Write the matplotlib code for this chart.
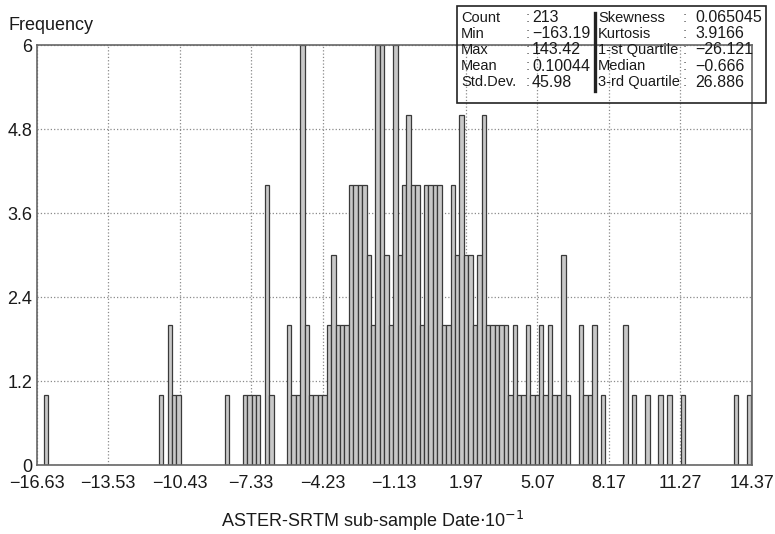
import numpy as np
import matplotlib.pyplot as plt
from matplotlib.patches import Rectangle
from matplotlib.lines import Line2D

plt.rcParams['font.family'] = ['Liberation Sans', 'DejaVu Sans']

# limites do histograma (min/max dos dados) e numero de classes
x_lo = -16.319
x_hi = 14.342
n_bins = 160

# classes nao vazias: indice da classe e frequencia
bin_idx = [0, 26, 28, 29, 30, 41, 45, 46, 47, 48, 50, 51,
           55, 56, 57, 58, 59, 60, 61, 62, 63, 64, 65, 66, 67, 68,
           69, 70, 71, 72, 73, 74, 75, 76, 77, 78, 79, 80, 81, 82,
           83, 84, 85, 86, 87, 88, 89, 90, 91, 92, 93, 94, 95, 96,
           97, 98, 99, 100, 101, 102, 103, 104, 105, 106, 107, 108, 109,
           110, 111, 112, 113, 114, 115, 116, 117, 118,
           121, 122, 123, 124, 126, 131, 133, 136, 139, 141, 144, 156, 159]
freq = [1, 1, 2, 1, 1, 1, 1, 1, 1, 1, 4, 1,
        2, 1, 1, 6, 2, 1, 1, 1, 1, 2, 3, 2, 2, 2,
        4, 4, 4, 4, 3, 2, 6, 6, 3, 2, 6, 3, 4, 5,
        4, 4, 2, 4, 4, 4, 4, 2, 2, 4, 3, 5, 3, 3,
        2, 3, 5, 2, 2, 2, 2, 2, 1, 2, 1, 1, 2,
        1, 1, 2, 1, 2, 1, 1, 3, 1,
        2, 1, 1, 2, 1, 2, 1, 1, 1, 1, 1, 1, 1]

x_ticks = [-16.63, -13.53, -10.43, -7.33, -4.23, -1.13, 1.97, 5.07, 8.17, 11.27, 14.37]
y_ticks = [0, 1.2, 2.4, 3.6, 4.8, 6]

stat_names_1 = ['Count', 'Min', 'Max', 'Mean', 'Std.Dev.']
stat_vals_1 = ['213', '\u2212163.19', '143.42', '0.10044', '45.98']
stat_names_2 = ['Skewness', 'Kurtosis', '1-st Quartile', 'Median', '3-rd Quartile']
stat_vals_2 = ['0.065045', '3.9166', '\u221226.121', '\u22120.666', '26.886']

W, H = 775, 534
fig = plt.figure(figsize=(W / 100, H / 100), dpi=100)
ax = fig.add_axes([36.5 / W, 1 - 465 / H, (752 - 36.5) / W, 420 / H])

edges = np.linspace(x_lo, x_hi, n_bins + 1)
w = edges[1] - edges[0]
ax.bar(edges[bin_idx], freq, width=w, align='edge',
       color='#c8c8c8', edgecolor='#3a3a3a', linewidth=0.9)

ax.set_xlim(x_ticks[0], x_ticks[-1])
ax.set_ylim(0, 6)
ax.set_xticks(x_ticks)
ax.set_xticklabels([('%.2f' % v).replace('-', '\u2212') for v in x_ticks])
ax.set_yticks(y_ticks)
ax.set_yticklabels(['0', '1.2', '2.4', '3.6', '4.8', '6'])
ax.tick_params(length=0, labelsize=13, colors='#1a1a1a')
ax.tick_params(axis='x', pad=7)
ax.tick_params(axis='y', pad=3)
ax.set_axisbelow(True)
ax.grid(True, linestyle=':', color='#8a8a8a', linewidth=0.9)
for s in ax.spines.values():
    s.set_color('#666666')
    s.set_linewidth(1.2)

fig.text(8 / W, 1 - 25 / H, 'Frequency', fontsize=13, va='center', ha='left', color='#1a1a1a')
fig.text(373 / W, 1 - 521 / H, r'ASTER-SRTM sub-sample Date$\cdot$10$^{-1}$',
         fontsize=13, va='center', ha='center', color='#1a1a1a')

# caixa de estatisticas
def fx(x):
    return x / W

def fy(y):
    return 1 - y / H

fig.add_artist(Rectangle((fx(457), fy(103)), (766 - 457) / W, 97 / H,
                         transform=fig.transFigure, fill=False, ec='#222222', lw=1.2))
fig.add_artist(Line2D([fx(595), fx(595)], [fy(13), fy(91)], transform=fig.transFigure,
                      color='#222222', lw=2.4))
for i in range(5):
    y = fy(17.5 + 16.2 * i)
    fig.text(fx(461), y, stat_names_1[i], fontsize=10.5, va='center', color='#1a1a1a')
    fig.text(fx(526), y, ':', fontsize=10.5, va='center', color='#555555')
    fig.text(fx(532), y, stat_vals_1[i], fontsize=11.5, va='center', color='#1a1a1a')
    fig.text(fx(598), y, stat_names_2[i], fontsize=10.5, va='center', color='#1a1a1a')
    fig.text(fx(683), y, ':', fontsize=10.5, va='center', color='#555555')
    fig.text(fx(695), y, stat_vals_2[i], fontsize=11.5, va='center', color='#1a1a1a')

fig.savefig('out.png', dpi=100)
